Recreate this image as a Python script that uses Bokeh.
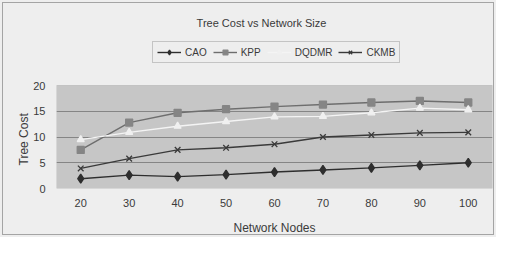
from bokeh.plotting import figure
from bokeh.models import Range1d, Legend, LegendItem, Title, FixedTicker, Label, BoxAnnotation
from bokeh.embed import file_html
from bokeh.resources import INLINE

nodes = ["20", "30", "40", "50", "60", "70", "80", "90", "100"]
cao = [1.9, 2.6, 2.3, 2.7, 3.2, 3.6, 4.0, 4.5, 5.0]
kpp = [7.5, 12.8, 14.7, 15.4, 15.9, 16.3, 16.7, 17.0, 16.7]
dqdmr = [9.5, 10.9, 12.1, 13.0, 13.9, 14.0, 14.7, 15.6, 15.3]
ckmb = [3.9, 5.8, 7.5, 7.9, 8.6, 10.0, 10.4, 10.8, 10.9]
y_ticks = [0, 5, 10, 15, 20]
grid_ticks = [5, 10, 15]
y_min, y_max = 0, 20

FONT = "Liberation Sans"
TXT = "#3a3a3a"
BG = "#eeeeee"

# frame spans the whole upper part; the grey plot area covers 0..20 only
FRAME_H = 188
PLOT_H = 103
y_top = y_max * FRAME_H / PLOT_H

p = figure(x_range=nodes, y_range=Range1d(0, y_top), width=496, height=237,
           output_backend="svg", toolbar_location=None,
           min_border_left=56, min_border_right=4, min_border_top=0, min_border_bottom=49)
p.background_fill_color = None
p.border_fill_color = None
p.outline_line_color = None
p.styles = {"background-color": BG,
            "box-shadow": "inset 0 0 0 2px %s, inset 0 0 0 3px #a4a4a4" % BG}

area = BoxAnnotation(bottom=y_min, top=y_max, fill_color="#c6c6c6", fill_alpha=1,
                     line_color="#8e8e8e", line_width=1, level="image")
p.add_layout(area)

p.xgrid.grid_line_color = None
p.ygrid.ticker = FixedTicker(ticks=grid_ticks)
p.ygrid.grid_line_color = "#858585"
p.ygrid.grid_line_width = 1

p.yaxis.ticker = FixedTicker(ticks=y_ticks)
for ax in (p.xaxis[0], p.yaxis[0]):
    ax.axis_line_color = None
    ax.major_tick_line_color = None
    ax.minor_tick_line_color = None
    ax.major_label_text_font = FONT
    ax.major_label_text_font_size = "11px"
    ax.major_label_text_color = TXT
    ax.axis_label_text_font = FONT
    ax.axis_label_text_font_size = "12px"
    ax.axis_label_text_font_style = "normal"
    ax.axis_label_text_color = TXT
p.xaxis.axis_label = "Network Nodes"
p.xaxis.major_label_standoff = 4
p.xaxis.axis_label_standoff = 11
p.yaxis.major_label_standoff = 5

ytitle = Title(text="Tree Cost", align="left", offset=23, standoff=0,
               text_font=FONT, text_font_size="12px", text_font_style="normal",
               text_color=TXT)
p.add_layout(ytitle, "left")

series = [
    ("CAO", cao, "#2e2e2e", "diamond", "#2e2e2e", 9),
    ("KPP", kpp, "#6e6e6e", "square", "#858585", 7),
    ("DQDMR", dqdmr, "#f4f4f4", "triangle", "#f0f0f0", 7),
    ("CKMB", ckmb, "#3a3a3a", "x", "#3a3a3a", 8),
]
items = []
for name, vals, lc, mk, mc, sz in series:
    r1 = p.line(nodes, vals, line_color=lc, line_width=1.4)
    r2 = p.scatter(nodes, vals, marker=mk, size=sz, fill_color=mc, line_color=mc, line_width=1.3)
    items.append(LegendItem(label=name, renderers=[r1, r2]))

legend = Legend(items=items, orientation="horizontal", location=(96, 125),
                label_text_font=FONT, label_text_font_size="10px", label_text_color=TXT,
                glyph_width=24, glyph_height=12, label_standoff=4, spacing=6,
                padding=4, margin=0, label_height=12,
                border_line_color="#999999", background_fill_color=BG,
                background_fill_alpha=1)
p.add_layout(legend, "center")

title = Label(x=205, y=166, x_units="screen", y_units="screen",
              text="Tree Cost vs Network Size", text_font=FONT, text_font_size="11px",
              text_color=TXT, text_align="center", text_baseline="middle")
p.add_layout(title)

open("out.html", "w").write(file_html(p, INLINE))
